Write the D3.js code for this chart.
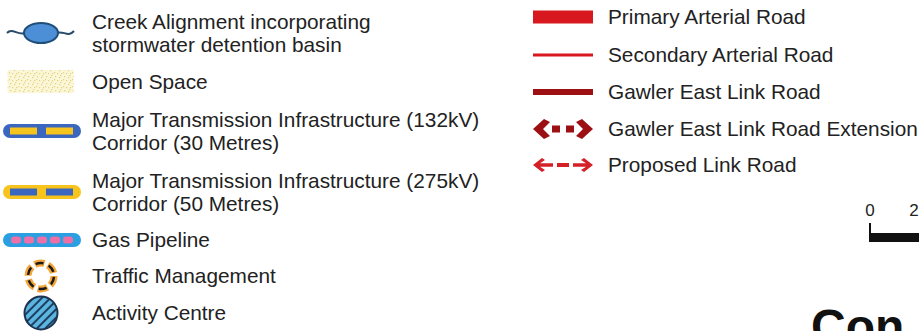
<!DOCTYPE html>
<meta charset="utf-8">
<style>
body { margin: 0; background: #fff; }
svg text { font-family: "Liberation Sans", Arial, sans-serif; fill: #222; }
</style>
<svg width="919" height="331"></svg>
<script src="https://d3js.org/d3.v7.min.js"></script>
<script>

// legend content
var leftLabels = [
	["Creek Alignment incorporating", "stormwater detention basin"],
	["Open Space"],
	["Major Transmission Infrastructure (132kV)", "Corridor (30 Metres)"],
	["Major Transmission Infrastructure (275kV)", "Corridor (50 Metres)"],
	["Gas Pipeline"],
	["Traffic Management"],
	["Activity Centre"]
];
var leftSymbols = ["creek", "open", "hv132", "hv275", "gas", "traffic", "activity"];

var rightLabels = ["Primary Arterial Road", "Secondary Arterial Road", "Gawler East Link Road",
	"Gawler East Link Road Extension", "Proposed Link Road"];
var rightSymbols = ["primary", "secondary", "gawler", "extension", "proposed"];

var scaleTicks = ["0", "2"];
var mapTitle = "Con";

var svg = d3.select("svg");
var defs = svg.append("defs");
var fontSize = 20.8;

// hatch for activity centre
var hatch = defs.append("pattern").attr("id", "hatch")
	.attr("width", 6).attr("height", 6)
	.attr("patternUnits", "userSpaceOnUse")
	.attr("patternTransform", "rotate(45)");
hatch.append("rect").attr("width", 6).attr("height", 6).attr("fill", "#5bb5e0");
hatch.append("rect").attr("width", 2).attr("height", 6).attr("fill", "#1d3e5e");

// speckle for open space
var speck = defs.append("pattern").attr("id", "speck")
	.attr("width", 9).attr("height", 7).attr("patternUnits", "userSpaceOnUse");
speck.append("rect").attr("width", 9).attr("height", 7).attr("fill", "#fbf6d8");
[[1, 1], [5, 2], [3, 5], [7, 5], [0, 4], [6, 0]].forEach(function(p) {
	speck.append("rect").attr("x", p[0]).attr("y", p[1]).attr("width", 1.2).attr("height", 1.2)
		.attr("fill", "#e3d37a");
});

// row centres of each legend entry
var leftY = [33, 82, 131, 192, 240, 276, 313];
var rightY = [17, 55, 92, 129, 165];
var lineGap = 23.5;

var symX = d3.scaleLinear().domain([0, 1]).range([3, 81]);
var symXR = d3.scaleLinear().domain([0, 1]).range([533, 593]);

var left = svg.selectAll("g.left").data(leftLabels).enter().append("g")
	.attr("class", "left")
	.attr("transform", function(d, i) { return "translate(0," + leftY[i] + ")"; });

left.append("text")
	.attr("x", 92)
	.attr("font-size", fontSize)
	.selectAll("tspan").data(function(d) { return d; }).enter().append("tspan")
	.attr("x", 92)
	.attr("y", function(d, j, n) { return (j - (n.length - 1) / 2) * lineGap; })
	.attr("dy", "0.35em")
	.text(function(d) { return d; });

left.each(function(d, i) {
	var g = d3.select(this);
	var kind = leftSymbols[i];
	if (kind === "creek") {
		g.append("path")
			.attr("d", "M7,0 C12,-6 18,3 25,0 M57,0 C63,-3 68,5 74,-2")
			.attr("fill", "none").attr("stroke", "#2a4b6a").attr("stroke-width", 2);
		g.append("ellipse").attr("cx", 41).attr("cy", 0).attr("rx", 17).attr("ry", 10)
			.attr("fill", "#4d8fd6").attr("stroke", "#1f4e7a").attr("stroke-width", 2);
	} else if (kind === "open") {
		g.append("rect").attr("x", symX(0.06)).attr("y", -12).attr("width", 66).attr("height", 23)
			.attr("fill", "url(#speck)");
	} else if (kind === "hv132" || kind === "hv275" || kind === "gas") {
		var outer = {hv132: "#3a66c0", hv275: "#f6c41c", gas: "#2a9fe2"}[kind];
		var inner = {hv132: "#f6c41c", hv275: "#3a66c0", gas: "#ec6fa8"}[kind];
		g.append("rect").attr("x", symX(0)).attr("y", -7).attr("width", symX(1) - symX(0)).attr("height", 14)
			.attr("rx", 7).attr("fill", outer);
		if (kind === "gas") {
			d3.range(5).forEach(function(k) {
				g.append("rect").attr("x", 11 + k * 13).attr("y", -3.5).attr("width", 10).attr("height", 7)
					.attr("rx", 3).attr("fill", inner);
			});
		} else {
			[[10, 27], [46, 27]].forEach(function(s) {
				g.append("rect").attr("x", s[0]).attr("y", -3.5).attr("width", s[1]).attr("height", 7)
					.attr("fill", inner);
			});
		}
	} else if (kind === "traffic") {
		g.append("circle").attr("cx", 41).attr("cy", 0).attr("r", 13)
			.attr("fill", "none").attr("stroke", "#f3a73a").attr("stroke-width", 7)
			.attr("stroke-dasharray", "10 3.6");
		g.append("circle").attr("cx", 41).attr("cy", 0).attr("r", 13)
			.attr("fill", "none").attr("stroke", "#1a1a1a").attr("stroke-width", 2.5)
			.attr("stroke-dasharray", "8 5.6").attr("stroke-dashoffset", -1);
	} else if (kind === "activity") {
		g.append("circle").attr("cx", 41).attr("cy", 0).attr("r", 16.5)
			.attr("fill", "url(#hatch)").attr("stroke", "#1d3350").attr("stroke-width", 2);
	}
});

var right = svg.selectAll("g.right").data(rightLabels).enter().append("g")
	.attr("class", "right")
	.attr("transform", function(d, i) { return "translate(0," + rightY[i] + ")"; });

right.append("text").attr("x", 608).attr("dy", "0.35em").attr("font-size", fontSize)
	.text(function(d) { return d; });

right.each(function(d, i) {
	var g = d3.select(this);
	var kind = rightSymbols[i];
	var x0 = symXR(0), x1 = symXR(1);
	if (kind === "primary") {
		g.append("rect").attr("x", x0).attr("y", -6.5).attr("width", x1 - x0).attr("height", 13).attr("fill", "#d7191f");
	} else if (kind === "secondary") {
		g.append("rect").attr("x", x0).attr("y", -1.5).attr("width", x1 - x0).attr("height", 3).attr("fill", "#d7191f");
	} else if (kind === "gawler") {
		g.append("rect").attr("x", x0).attr("y", -3).attr("width", x1 - x0).attr("height", 6).attr("fill", "#9c1014");
	} else if (kind === "extension") {
		var c = "#9c1014";
		g.append("path").attr("d", "M" + (x0 + 11) + ",-10 L" + x0 + ",0 L" + (x0 + 11) + ",10 L" + (x0 + 17) + ",7 L" + (x0 + 10) + ",0 L" + (x0 + 17) + ",-7 Z").attr("fill", c);
		g.append("path").attr("d", "M" + (x1 - 11) + ",-10 L" + x1 + ",0 L" + (x1 - 11) + ",10 L" + (x1 - 17) + ",7 L" + (x1 - 10) + ",0 L" + (x1 - 17) + ",-7 Z").attr("fill", c);
		[x0 + 19, x0 + 33].forEach(function(x) {
			g.append("rect").attr("x", x).attr("y", -3.5).attr("width", 8).attr("height", 7).attr("fill", c);
		});
	} else if (kind === "proposed") {
		var c2 = "#d42027";
		g.append("path").attr("d", "M" + (x0 + 9) + ",-7 L" + x0 + ",0 L" + (x0 + 9) + ",7 L" + (x0 + 12) + ",5 L" + (x0 + 7) + ",1.8 L" + (x0 + 20) + ",1.8 L" + (x0 + 20) + ",-1.8 L" + (x0 + 7) + ",-1.8 L" + (x0 + 12) + ",-5 Z").attr("fill", c2);
		g.append("path").attr("d", "M" + (x1 - 9) + ",-7 L" + x1 + ",0 L" + (x1 - 9) + ",7 L" + (x1 - 12) + ",5 L" + (x1 - 7) + ",1.8 L" + (x1 - 20) + ",1.8 L" + (x1 - 20) + ",-1.8 L" + (x1 - 7) + ",-1.8 L" + (x1 - 12) + ",-5 Z").attr("fill", c2);
		g.append("rect").attr("x", x0 + 24).attr("y", -2).attr("width", 12).attr("height", 4).attr("fill", c2);
	}
});

// scale bar (cut off at the right edge)
var sx = d3.scaleLinear().domain([0, 2]).range([870, 914]);
svg.selectAll("text.tick").data(scaleTicks).enter().append("text")
	.attr("class", "tick")
	.attr("x", function(d) { return sx(+d); })
	.attr("y", 216).attr("text-anchor", "middle").attr("font-size", 17)
	.text(function(d) { return d; });
svg.append("rect").attr("x", sx(0) - 1).attr("y", 223).attr("width", 2).attr("height", 19).attr("fill", "#111");
svg.append("rect").attr("x", sx(0) - 1).attr("y", 233).attr("width", 60).attr("height", 9).attr("fill", "#111");

// map title, cut off by the frame as in the source
svg.append("text").attr("x", 811).attr("y", 343)
	.attr("font-size", 48).attr("font-weight", "bold").style("fill", "#111")
	.text(mapTitle);

</script>
